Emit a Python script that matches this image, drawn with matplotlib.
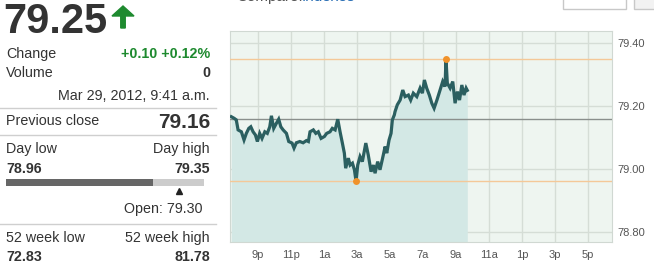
import matplotlib

matplotlib.use("Agg")
import matplotlib.pyplot as plt
from matplotlib.patches import Rectangle, FancyArrow

plt.rcParams["font.family"] = ["Liberation Sans", "DejaVu Sans"]

W, H = 654, 269

# intraday quote, hours relative to midnight Mar 29 (negative = previous evening)
hours = [-4.62, -4.45, -4.32, -4.21, -4.01, -3.85, -3.71, -3.56, -3.44, -3.30,
         -3.16, -3.04, -2.90, -2.76, -2.59, -2.44, -2.29, -2.19, -2.05, -1.89,
         -1.75, -1.62, -1.48, -1.28, -1.14, -0.94, -0.82, -0.68, -0.47, -0.27,
         -0.07, 0.05, 0.15, 0.35, 0.50, 0.65, 0.82, 1.02, 1.16, 1.36,
         1.50, 1.67, 1.83, 1.97, 2.11, 2.23, 2.31, 2.47, 2.58, 2.72,
         2.84, 2.94, 3.04, 3.18, 3.32, 3.53, 3.68, 3.85, 3.99, 4.09,
         4.25, 4.39, 4.59, 4.70, 4.80, 4.94, 5.06, 5.14, 5.26, 5.30,
         5.44, 5.61, 5.77, 5.91, 6.11, 6.25, 6.41, 6.62, 6.82, 6.96,
         7.08, 7.22, 7.38, 7.53, 7.67, 7.84, 8.03, 8.19, 8.33, 8.39,
         8.47, 8.64, 8.80, 8.94, 9.08, 9.21, 9.35, 9.48, 9.61, 9.68]
prices = [79.166, 79.161, 79.156, 79.124, 79.118, 79.092, 79.113, 79.129, 79.134, 79.118,
          79.108, 79.087, 79.113, 79.097, 79.118, 79.113, 79.134, 79.169, 79.129, 79.145,
          79.158, 79.134, 79.124, 79.113, 79.087, 79.082, 79.066, 79.083, 79.087, 79.083,
          79.090, 79.087, 79.118, 79.124, 79.113, 79.118, 79.097, 79.103, 79.113, 79.118,
          79.129, 79.124, 79.158, 79.118, 79.082, 79.050, 79.002, 79.034, 79.012, 79.018,
          78.997, 78.960, 79.012, 79.039, 79.023, 79.082, 79.044, 78.991, 79.012, 78.986,
          79.023, 78.997, 79.044, 79.071, 79.050, 79.092, 79.113, 79.156, 79.172, 79.182,
          79.204, 79.219, 79.251, 79.230, 79.235, 79.219, 79.241, 79.230, 79.257, 79.241,
          79.283, 79.257, 79.235, 79.209, 79.193, 79.219, 79.251, 79.278, 79.262, 79.350,
          79.273, 79.257, 79.278, 79.209, 79.246, 79.219, 79.267, 79.235, 79.257, 79.250]

tick_hours = [-3, -1, 1, 3, 5, 7, 9, 11, 13, 15, 17]
tick_labels = ["9p", "11p", "1a", "3a", "5a", "7a", "9a", "11a", "1p", "3p", "5p"]
price_ticks = [78.80, 79.00, 79.20, 79.40]

last = 79.25
change = 0.10
change_pct = 0.12
volume = 0
prev_close = 79.16
day_low, day_high = 78.96, 79.35
day_open = 79.30
wk52_low, wk52_high = 72.83, 81.78
stamp = "Mar 29, 2012, 9:41 a.m."

TXT = "#333333"
GREEN = "#1e8a2f"


def fx(x):
    return x / W


def fy(y):
    return 1 - y / H


fig = plt.figure(figsize=(W / 100, H / 100), dpi=100)
fig.patch.set_facecolor("white")

# ---- left quote panel
fig.text(fx(3), fy(33), f"{last:.2f}", fontsize=30, fontweight="bold", color=TXT, va="baseline", ha="left")
fig.patches.append(FancyArrow(fx(123), fy(28), 0, 22 / H, width=4.5 / W, head_width=22 / W,
                              head_length=10 / H, color=GREEN, transform=fig.transFigure,
                              length_includes_head=True))

rows = [
    (54, "Change", f"+{change:.2f} +{change_pct:.2f}%", GREEN),
    (73, "Volume", f"{volume}", TXT),
]
for y, lab, val, col in rows:
    fig.text(fx(6), fy(y), lab, fontsize=10.3, color=TXT, va="center")
    fig.text(fx(210), fy(y), val, fontsize=10.3, color=col, va="center", ha="right", fontweight="bold")
fig.text(fx(210), fy(96), stamp, fontsize=10.3, color=TXT, va="center", ha="right")

for y in (108, 135, 224):
    fig.add_artist(plt.Line2D([fx(0), fx(216)], [fy(y), fy(y)], color="#cfcfcf", lw=1))

fig.text(fx(6), fy(121), "Previous close", fontsize=10.3, color=TXT, va="center")
fig.text(fx(210), fy(122), f"{prev_close:.2f}", fontsize=15, fontweight="bold", color=TXT,
         va="center", ha="right")

fig.text(fx(6), fy(149), "Day low", fontsize=10.3, color=TXT, va="center")
fig.text(fx(210), fy(149), "Day high", fontsize=10.3, color=TXT, va="center", ha="right")
fig.text(fx(6), fy(169), f"{day_low:.2f}", fontsize=10.3, fontweight="bold", color=TXT, va="center")
fig.text(fx(210), fy(169), f"{day_high:.2f}", fontsize=10.3, fontweight="bold", color=TXT,
         va="center", ha="right")

rng = fig.add_axes([fx(6), fy(194), fx(198), 15 / H])
rng.set_xlim(day_low, day_high)
rng.set_ylim(0, 15)
rng.axis("off")
rng.add_patch(Rectangle((day_low, 8), day_high - day_low, 7, color="#cccccc", lw=0))
rng.add_patch(Rectangle((day_low, 8), last - day_low, 7, color="#666666", lw=0))
rng.plot([day_open], [3], marker="^", color="#222222", markersize=4.5, clip_on=False)

fig.text(fx(203), fy(209), f"Open: {day_open:.2f}", fontsize=10.3, color=TXT, va="center", ha="right")

fig.text(fx(6), fy(238), "52 week low", fontsize=10.3, color=TXT, va="center")
fig.text(fx(210), fy(238), "52 week high", fontsize=10.3, color=TXT, va="center", ha="right")
fig.text(fx(6), fy(257), f"{wk52_low:.2f}", fontsize=10.3, fontweight="bold", color=TXT, va="center")
fig.text(fx(210), fy(257), f"{wk52_high:.2f}", fontsize=10.3, fontweight="bold", color=TXT,
         va="center", ha="right")

# ---- header remnants above the chart (cut off at the top, as in the page grab)
fig.text(fx(236), fy(-3), "Compare:", fontsize=11, color="#555555", va="center")
fig.text(fx(302), fy(-3), "Indexes", fontsize=11, color="#2a6fb5", va="center")
fig.patches.append(Rectangle((fx(563), fy(9)), fx(63), 12 / H, transform=fig.transFigure,
                             facecolor="white", edgecolor="#c8c8c8", lw=1))
fig.patches.append(Rectangle((fx(634), fy(9)), fx(25), 12 / H, transform=fig.transFigure,
                             facecolor="#f2f2f2", edgecolor="#c8c8c8", lw=1))

# ---- price chart
ax = fig.add_axes([fx(230), fy(242), fx(382), 211 / H])
ax.set_facecolor("#eef5f0")
x0, x1 = -4.7, 18.45
y0, y1 = 78.767, 79.439
ax.set_xlim(x0, x1)
ax.set_ylim(y0, y1)

for t in tick_hours:
    ax.axvline(t, color="#d5ddd6", lw=1, zorder=1)
for p in price_ticks:
    ax.axhline(p, color="#d5ddd6", lw=1, zorder=1)

ax.fill_between(hours, prices, y0, color="#d3e8e5", lw=0, zorder=2)
ax.axhline(day_high, color="#f4c898", lw=1, zorder=3)
ax.axhline(day_low, color="#f4c898", lw=1, zorder=3)
ax.axhline(prev_close, color="#8a8f8c", lw=1, zorder=3)
ax.plot(hours, prices, color="#2b5f60", lw=2.3, zorder=4, solid_joinstyle="miter")

lo_i = prices.index(min(prices))
hi_i = prices.index(max(prices))
ax.plot([hours[lo_i], hours[hi_i]], [prices[lo_i], prices[hi_i]], "o", color="#f0922a",
        markersize=5, zorder=5, markeredgewidth=0)

ax.set_xticks(tick_hours)
ax.set_xticklabels(tick_labels)
ax.set_yticks(price_ticks)
ax.set_yticklabels([f"{p:.2f}" for p in price_ticks])
ax.yaxis.tick_right()
ax.tick_params(length=0, labelsize=8, colors="#555555")
ax.tick_params(axis="x", pad=6)
ax.tick_params(axis="y", pad=4)
for s in ax.spines.values():
    s.set_color("#d0d8d2")

fig.savefig("out.png", dpi=100)
